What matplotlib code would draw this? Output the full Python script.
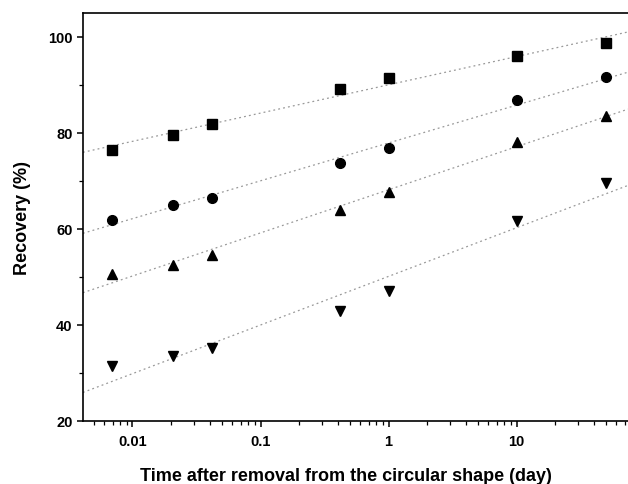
import numpy as np
import matplotlib
matplotlib.use("Agg")
import matplotlib.pyplot as plt
from matplotlib.ticker import FixedLocator, FixedFormatter, MultipleLocator, LogLocator, NullFormatter

plt.rcParams["font.family"] = ["Liberation Sans", "DejaVu Sans"]
plt.rcParams["font.weight"] = "bold"

# time after removal (day)
time_days = [0.00694, 0.0208, 0.0417, 0.417, 1.0, 10.0, 50.0]

# recovery (%) per series
square_vals = [76.3, 79.6, 81.9, 89.1, 91.3, 95.9, 98.6]
circle_vals = [61.9, 65.0, 66.4, 73.7, 76.8, 86.8, 91.6]
up_tri_vals = [50.6, 52.4, 54.6, 64.0, 67.7, 78.0, 83.5]
down_tri_vals = [31.5, 33.6, 35.1, 42.8, 47.1, 61.7, 69.5]

series = [
    (square_vals, "s", 6.5),
    (circle_vals, "o", 7),
    (up_tri_vals, "^", 7.8),
    (down_tri_vals, "v", 7.8),
]

xmin, xmax = 0.0041, 74.0

fig = plt.figure(figsize=(6.28, 4.85), dpi=100)
ax = fig.add_axes([0.132, 0.130, 0.868, 0.841])

xfit = np.logspace(np.log10(xmin), np.log10(xmax), 100)
logt = np.log10(time_days)
for vals, marker, ms in series:
    # log-linear fit line through each series
    slope, icpt = np.polyfit(logt, vals, 1)
    ax.plot(xfit, slope * np.log10(xfit) + icpt, linestyle=(0, (1.5, 2.5)),
            color="#999999", linewidth=0.9, zorder=1)
    ax.plot(time_days, vals, linestyle="none", marker=marker, markersize=ms,
            color="black", zorder=2)

ax.set_xscale("log")
ax.set_xlim(xmin, xmax)
ax.set_ylim(20, 104.9)

ax.xaxis.set_major_locator(FixedLocator([0.01, 0.1, 1, 10]))
ax.xaxis.set_major_formatter(FixedFormatter(["0.01", "0.1", "1", "10"]))
ax.xaxis.set_minor_locator(LogLocator(base=10, subs=np.arange(2, 10), numticks=20))
ax.xaxis.set_minor_formatter(NullFormatter())
ax.yaxis.set_major_locator(MultipleLocator(20))
ax.yaxis.set_minor_locator(MultipleLocator(10))

ax.spines["right"].set_visible(False)
for s in ["left", "bottom", "top"]:
    ax.spines[s].set_linewidth(1.2)

ax.tick_params(which="major", direction="out", length=4.5, width=1.1,
               labelsize=10.5, pad=3, top=False, right=False)
ax.tick_params(axis="x", which="major", pad=5)
ax.tick_params(which="minor", direction="out", length=2.8, width=0.9,
               top=False, right=False)
for lab in ax.get_xticklabels() + ax.get_yticklabels():
    lab.set_fontweight("bold")

ax.set_xlabel("Time after removal from the circular shape (day)",
              fontsize=13, fontweight="bold")
ax.xaxis.set_label_coords(0.483, -0.114)
ax.set_ylabel("Recovery (%)", fontsize=13, fontweight="bold", labelpad=12)

fig.savefig("out.png", dpi=100)
